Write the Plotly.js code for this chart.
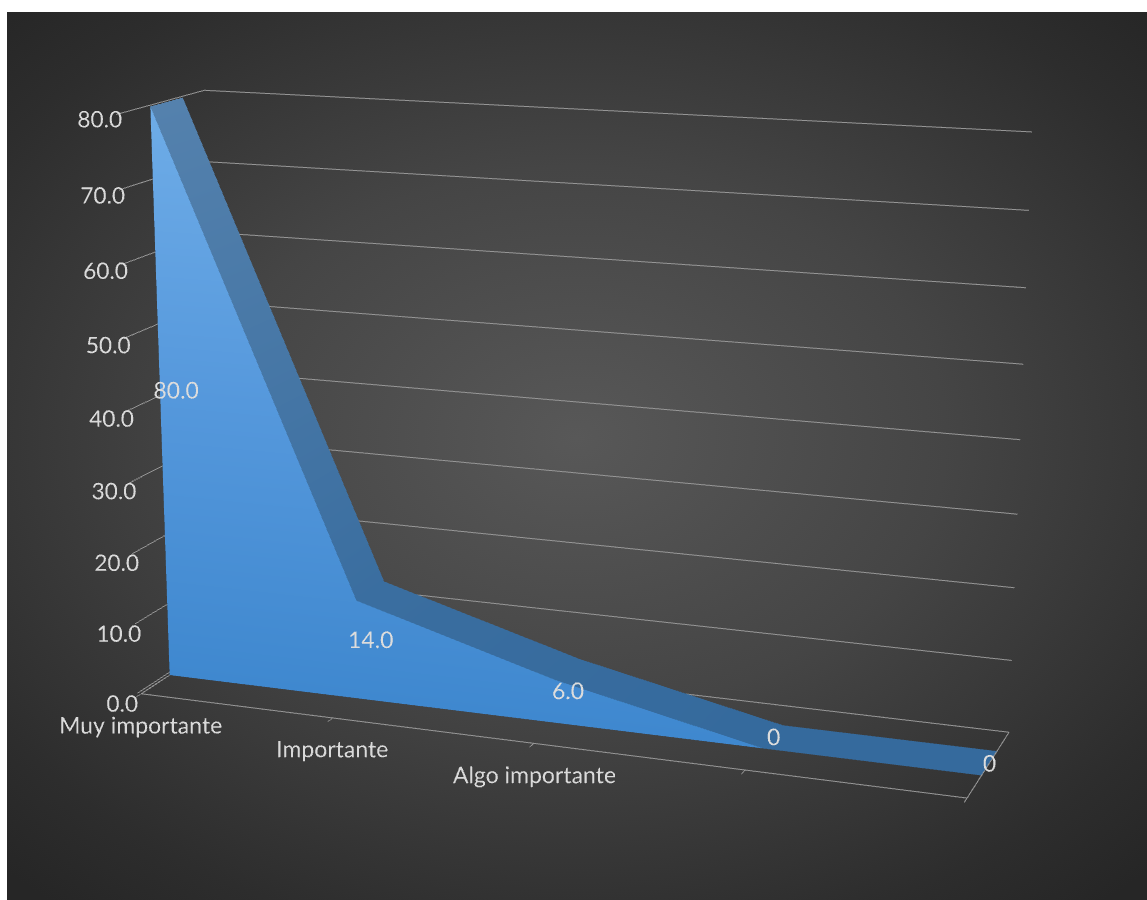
<!DOCTYPE html>
<html>
<head>
<meta charset="utf-8">
<script src="https://cdn.plot.ly/plotly-3.0.1.min.js"></script>
<style>
  html, body { margin: 0; padding: 0; background: #ffffff; overflow: hidden; }
  #frame {
    position: absolute; left: 7px; top: 12px; width: 1140px; height: 888px;
    background: radial-gradient(ellipse 72% 68% at 50% 48%, #585858 0%, #454545 45%, #2d2d2d 85%, #262626 100%);
    overflow: hidden;
  }
  /* Large scene canvas, centred on the chart, gives a long focal length (mild perspective) */
  #chart { position: absolute; left: -942px; top: -815px; width: 3000px; height: 2456px; }
  #msg { position: absolute; left: 10px; bottom: 4px; color: #f55; font: 14px sans-serif; }
</style>
</head>
<body>
<div id="frame"><div id="chart"></div></div>
<div id="msg"></div>
<script>
window.onerror = function (m) { document.getElementById("msg").textContent += " " + m; };

// Category axis labels (the last two categories carry no text)
const categories = ["Muy importante", "Importante", "Algo importante", "", ""];
// Series values and the data labels printed on them
const values = [80, 14, 6, 0, 0];
const valueLabels = ["80.0", "14.0", "6.0", "0", "0"];
// Value axis ticks
const zTickVals = [0, 10, 20, 30, 40, 50, 60, 70, 80];
const zTickText = ["0.0", "10.0", "20.0", "30.0", "40.0", "50.0", "60.0", "70.0", "80.0"];

// Depth layout of the 3-D area: floor spans 0..1, the series slab sits in the middle
const DEPTH_MIN = 0, DEPTH_MAX = 1;
const SLAB_FRONT = 0.33, SLAB_BACK = 0.7, SLAB_MID = 0.515;

const idx = values.map((_, i) => i);
const n = values.length;

// Front face of the slab: vertical strip under the polyline
function frontFace() {
  const x = [], y = [], z = [], I = [], J = [], K = [];
  idx.forEach(i => { x.push(i, i); y.push(SLAB_FRONT, SLAB_FRONT); z.push(0, values[i]); });
  for (let i = 0; i < n - 1; i++) {
    const b0 = 2 * i, t0 = 2 * i + 1, b1 = 2 * i + 2, t1 = 2 * i + 3;
    I.push(b0, b0); J.push(t0, t1); K.push(t1, b1);
  }
  return { x, y, z, i: I, j: J, k: K };
}

// Top band and remaining faces of the slab
function bandFaces() {
  const x = [], y = [], z = [], I = [], J = [], K = [];
  idx.forEach(i => {
    x.push(i, i, i, i);
    y.push(SLAB_FRONT, SLAB_FRONT, SLAB_BACK, SLAB_BACK);
    z.push(0, values[i], 0, values[i]);
  });
  const q = (a, b, c, d) => { I.push(a, a); J.push(b, c); K.push(c, d); };
  for (let i = 0; i < n - 1; i++) {
    const o = 4 * i, p = 4 * (i + 1);
    q(o + 1, o + 3, p + 3, p + 1);   // top
    q(o + 2, o + 3, p + 3, p + 2);   // back
    q(o + 0, o + 2, p + 2, p + 0);   // bottom
  }
  q(0, 1, 3, 2);                      // left end
  return { x, y, z, i: I, j: J, k: K };
}

const flat = { ambient: 1, diffuse: 0, specular: 0, roughness: 1, fresnel: 0 };
const textFamily = "Lato, 'Open Sans', sans-serif";
const lineGray = "#969696";

const front = frontFace();
const band = bandFaces();

const traces = [
  Object.assign({
    type: "mesh3d", scene: "scene", lighting: flat, hoverinfo: "skip",
    intensity: front.z, cmin: 0, cmax: 80, showscale: false,
    colorscale: [[0, "#3f88cf"], [0.5, "#5598dc"], [1, "#6eace7"]]
  }, front),
  Object.assign({
    type: "mesh3d", scene: "scene", lighting: flat, hoverinfo: "skip",
    intensity: band.z, cmin: 0, cmax: 80, showscale: false,
    colorscale: [[0, "#356a9d"], [1, "#5481ad"]]
  }, band),
  {
    // Floor outline
    type: "scatter3d", scene: "scene", mode: "lines", hoverinfo: "skip", showlegend: false,
    x: [0, n - 1, n - 1, 0, 0],
    y: [DEPTH_MIN, DEPTH_MIN, DEPTH_MAX, DEPTH_MAX, DEPTH_MIN],
    z: [0, 0, 0, 0, 0],
    line: { color: lineGray, width: 2 }
  },
  {
    // Data labels at half the value, centred in the slab (drawn in the overlay scene)
    type: "scatter3d", scene: "scene2", mode: "text", hoverinfo: "skip", showlegend: false,
    x: idx, y: idx.map(() => SLAB_MID), z: values.map(v => v / 2),
    text: valueLabels, textposition: "middle center",
    textfont: { family: textFamily, size: 23, color: "#dcdcdc" }
  },
  {
    // Category labels under the front edge of the floor
    type: "scatter3d", scene: "scene2", mode: "text", hoverinfo: "skip", showlegend: false,
    x: idx, y: idx.map(() => DEPTH_MIN), z: idx.map(() => 0),
    text: categories, textposition: "bottom center",
    textfont: { family: textFamily, size: 23, color: "#d9d9d9" }
  }
];

const tickFont = { family: textFamily, size: 16.5, color: "#d9d9d9" };

const camera = {
  eye: { x: 1.118, y: -3.073, z: 0.815 },
  center: { x: 0, y: 0, z: 0 },
  up: { x: 0, y: 0, z: 1 },
  projection: { type: "perspective" }
};
const aspect = { x: 1, y: 0.22, z: 0.69 };
const hidden = {
  title: { text: "" }, showticklabels: false, showgrid: false, zeroline: false,
  showline: false, showbackground: false, ticks: "", showspikes: false
};

const layout = {
  width: 3000, height: 2456,
  margin: { l: 0, r: 0, t: 0, b: 0 },
  paper_bgcolor: "rgba(0,0,0,0)",
  showlegend: false,
  scene: {
    domain: { x: [0, 1], y: [0, 1] },
    bgcolor: "rgba(0,0,0,0)",
    aspectmode: "manual", aspectratio: aspect, camera: camera,
    xaxis: {
      title: { text: "" }, range: [-0.02, n - 1],
      tickvals: idx, showticklabels: false,
      showgrid: false, zeroline: false, showline: false, showbackground: false,
      ticks: "outside", ticklen: 6, tickwidth: 2, tickcolor: lineGray, showspikes: false
    },
    yaxis: Object.assign({}, hidden, { range: [DEPTH_MIN, DEPTH_MAX] }),
    zaxis: {
      title: { text: "" }, range: [0, 80],
      tickvals: zTickVals, ticktext: zTickText, tickfont: tickFont, tickangle: 0,
      showgrid: true, gridcolor: lineGray, gridwidth: 2,
      zeroline: false, showline: false, showbackground: false,
      ticks: "outside", ticklen: 22, tickcolor: "rgba(0,0,0,0)", showspikes: false
    }
  },
  // Same view with no axes: carries the text so it is never hidden by the slab
  scene2: {
    domain: { x: [0, 1], y: [0, 1] },
    bgcolor: "rgba(0,0,0,0)",
    aspectmode: "manual", aspectratio: aspect, camera: camera,
    xaxis: Object.assign({}, hidden, { range: [-0.02, n - 1] }),
    yaxis: Object.assign({}, hidden, { range: [DEPTH_MIN, DEPTH_MAX] }),
    zaxis: Object.assign({}, hidden, { range: [0, 80] })
  }
};

Plotly.newPlot("chart", traces, layout, { displayModeBar: false, plotGlPixelRatio: 1 })
  .catch(e => { document.getElementById("msg").textContent += " " + e; });
</script>
</body>
</html>
